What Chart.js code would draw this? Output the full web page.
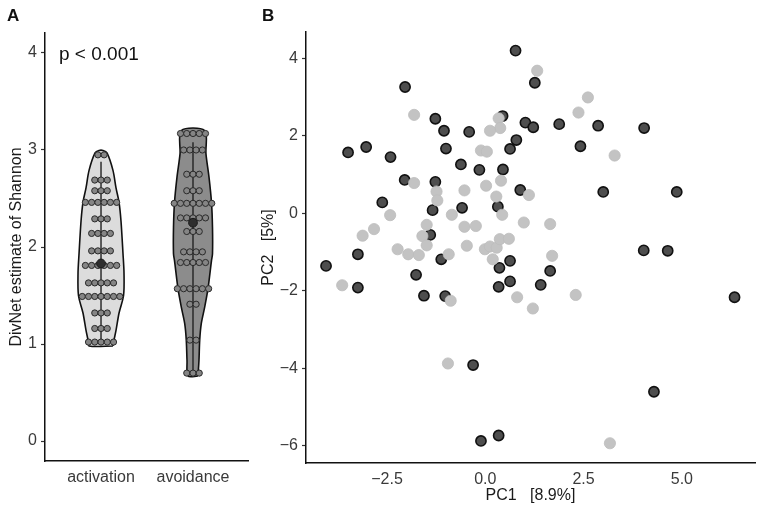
<!DOCTYPE html>
<html>
<head>
<meta charset="utf-8">
<script src="https://cdn.jsdelivr.net/npm/chart.js@4.4.1/dist/chart.umd.min.js"></script>
<style>
  body { margin: 0; background: #fff; font-family: "Liberation Sans", Arial, sans-serif; }
  #wrap { position: relative; width: 765px; height: 513px; overflow: hidden; }
  .panel { position: absolute; top: 0; height: 513px; }
  #panelA { left: 0; width: 258px; }
  #panelB { left: 255px; width: 510px; }
  .tag { position: absolute; font-weight: bold; font-size: 17px; color: #111; }
  #pval { position: absolute; left: 59px; top: 43px; font-size: 19px; color: #111; }
</style>
</head>
<body>
<div id="wrap">
  <div class="panel" id="panelA"><canvas id="chartA"></canvas></div>
  <div class="panel" id="panelB"><canvas id="chartB"></canvas></div>
  <div class="tag" style="left:7px; top:6px;">A</div>
  <div class="tag" style="left:262px; top:6px;">B</div>
  <div id="pval">p &lt; 0.001</div>
</div>
<script>
// panel A: DivNet Shannon estimates, one row of dots per value level
const categories = ["activation", "avoidance"];
const actLevels = [2.95, 2.69, 2.58, 2.46, 2.29, 2.14, 1.96, 1.81, 1.63, 1.49, 1.32, 1.16, 1.02];
const actCounts = [2, 3, 3, 6, 3, 4, 4, 6, 5, 7, 3, 3, 5];
const avoLevels = [3.17, 3.00, 2.75, 2.58, 2.45, 2.30, 2.16, 1.95, 1.84, 1.57, 1.41, 1.04, 0.70];
const avoCounts = [5, 4, 3, 3, 7, 5, 3, 4, 5, 6, 2, 2, 3];
const groupMeans = [1.83, 2.25];
const whiskers = [[1.02, 2.88], [0.70, 3.08]];

// violin outlines (value, half width in category units)
const actViolinY = [0.98, 1.04, 1.14, 1.32, 1.50, 1.73, 1.93, 2.27, 2.46, 2.61, 2.79, 2.97, 2.995];
const actViolinW = [0.13, 0.141, 0.163, 0.196, 0.245, 0.25, 0.239, 0.217, 0.196, 0.163, 0.13, 0.065, 0.022];
const avoViolinY = [0.67, 0.83, 1.04, 1.21, 1.38, 1.57, 1.86, 1.93, 2.20, 2.46, 2.72, 2.96, 3.20];
const avoViolinW = [0.054, 0.065, 0.073, 0.09, 0.127, 0.163, 0.201, 0.212, 0.212, 0.201, 0.174, 0.141, 0.127];
const yTicksA = [0, 1, 2, 3, 4];

// panel B: PCA scores
const avoidancePC1 = [0.77, -2.04, -1.27, -1.05, -0.41, 0.44, 1.02, 0.79, 0.63, -3.49, -3.03, -2.41, -1.00,
  -0.62, -0.15, 0.45, -2.05, -1.27, 0.89, -2.62, -1.34, -0.59, 0.32, 1.26, 1.22, 1.88, 2.87, 4.04, 2.42,
  3.00, 4.87, -1.40, -3.24, -4.05, -1.12, 0.36, 0.63, -1.76, -3.24, -1.56, -1.02, 0.34, 0.63, -0.31,
  4.03, 4.64, 1.65, 1.41, 6.34, 4.29, -0.11, 0.34];
const avoidancePC2 = [4.20, 3.26, 2.44, 2.13, 2.10, 2.51, 2.34, 1.89, 1.66, 1.57, 1.71, 1.45, 1.67,
  1.26, 1.12, 1.13, 0.86, 0.81, 0.60, 0.28, 0.08, 0.14, 0.17, 3.37, 2.22, 2.30, 2.26, 2.20, 1.73,
  0.55, 0.55, -0.56, -1.06, -1.36, -1.19, -1.41, -1.23, -1.59, -1.92, -2.13, -2.14, -1.90, -1.76, -3.92,
  -0.96, -0.97, -1.49, -1.85, -2.17, -4.61, -5.88, -5.74];
const activationPC1 = [-1.81, 0.34, 0.38, 0.12, -0.11, 0.04, 0.40, 0.02, -0.53, -1.81, -1.24, -1.22, 0.28,
  0.43, -2.42, -0.85, 0.98, -2.83, -1.49, -0.53, -0.24, 1.32, 2.61, 2.37, 3.29, 1.11, 1.65, -3.12, -1.60,
  -1.49, -0.47, -2.23, -1.96, -1.69, -0.93, -0.01, 0.12, 0.29, 0.37, 0.60, 0.19, -3.64, -0.88, 0.81,
  1.21, -0.95, 1.70, 2.30, 3.17];
const activationPC2 = [2.54, 2.45, 2.20, 2.13, 1.62, 1.59, 0.84, 0.71, 0.59, 0.78, 0.56, 0.33, 0.43,
  -0.04, -0.05, -0.04, -0.24, -0.41, -0.30, -0.35, -0.33, 3.68, 2.99, 2.60, 1.49, 0.47, -0.28, -0.58, -0.59,
  -0.83, -0.84, -0.93, -1.06, -1.08, -1.06, -0.93, -0.86, -0.89, -0.67, -0.66, -1.19, -1.86, -2.26, -2.17,
  -2.46, -3.88, -1.10, -2.11, -5.94];
const xTicksB = [-2.5, 0, 2.5, 5];
const yTicksB = [-6, -4, -2, 0, 2, 4];

const dotStep = 0.068;
const tickFont = { family: "'Liberation Sans', Arial, sans-serif", size: 16 };
const titleFont = { family: "'Liberation Sans', Arial, sans-serif", size: 16 };

function dotRows(center, levels, counts) {
  const pts = [];
  levels.forEach((v, i) => {
    const n = counts[i];
    for (let k = 0; k < n; k++) {
      pts.push({ x: center + (k - (n - 1) / 2) * dotStep, y: v });
    }
  });
  return pts;
}

function violin(center, ys, ws) {
  const right = ys.map((y, i) => ({ x: center + ws[i], y: y }));
  const left = ys.map((y, i) => ({ x: center - ws[i], y: y })).reverse();
  const pts = right.concat(left);
  pts.push(pts[0]);
  return pts;
}

function axisStyle() {
  return {
    border: { display: true, color: "#111", width: 1.5 },
    grid: { drawOnChartArea: false, drawTicks: true, tickLength: 4, tickColor: "#333", tickWidth: 1.2 },
    ticks: { color: "#3a3a3a", font: tickFont, padding: 4, maxRotation: 0, autoSkip: false }
  };
}

// ---------- panel A ----------
const xA = axisStyle();
xA.grid.tickColor = "rgba(0,0,0,0)";
xA.ticks.padding = 3;
const yA = axisStyle();

new Chart(document.getElementById("chartA"), {
  type: "scatter",
  data: {
    datasets: [
      { data: violin(1, actViolinY, actViolinW), showLine: true, fill: "shape", tension: 0.3,
        backgroundColor: "#dcdcdc", borderColor: "#111", borderWidth: 1.6, pointRadius: 0, order: 5 },
      { data: violin(2, avoViolinY, avoViolinW), showLine: true, fill: "shape", tension: 0.3,
        backgroundColor: "#8c8c8c", borderColor: "#111", borderWidth: 1.6, pointRadius: 0, order: 5 },
      { data: [{ x: 1, y: whiskers[0][0] }, { x: 1, y: whiskers[0][1] }], showLine: true,
        borderColor: "#222", borderWidth: 1.4, pointRadius: 0, order: 4 },
      { data: [{ x: 2, y: whiskers[1][0] }, { x: 2, y: whiskers[1][1] }], showLine: true,
        borderColor: "#222", borderWidth: 1.4, pointRadius: 0, order: 4 },
      { data: dotRows(1, actLevels, actCounts), pointRadius: 3.1, pointBackgroundColor: "#858585",
        pointBorderColor: "#2a2a2a", pointBorderWidth: 1, order: 3 },
      { data: dotRows(2, avoLevels, avoCounts), pointRadius: 3.1, pointBackgroundColor: "#858585",
        pointBorderColor: "#2a2a2a", pointBorderWidth: 1, order: 3 },
      { data: groupMeans.map((m, i) => ({ x: i + 1, y: m })), pointRadius: 4.4,
        pointBackgroundColor: "#2e2e2e", pointBorderColor: "#1a1a1a", pointBorderWidth: 1, order: 1 }
    ]
  },
  options: {
    responsive: true,
    maintainAspectRatio: false,
    animation: false,
    layout: { padding: { left: 3, top: 33, right: 10, bottom: 0 } },
    plugins: { legend: { display: false }, tooltip: { enabled: false } },
    scales: {
      x: Object.assign(xA, {
        type: "linear", min: 0.391, max: 2.598,
        afterBuildTicks: s => { s.ticks = [1, 2].map(v => ({ value: v })); },
        afterFit: s => { s.height = 52; },
        ticks: Object.assign(xA.ticks, { callback: v => categories[v - 1] })
      }),
      y: Object.assign(yA, {
        min: -0.206, max: 4.206,
        afterBuildTicks: s => { s.ticks = yTicksA.map(v => ({ value: v })); },
        afterFit: s => { s.width = 42; },
        title: { display: true, text: "DivNet estimate of Shannon", color: "#1a1a1a", font: titleFont,
          padding: { top: 4, bottom: 4 } }
      })
    }
  }
});

// ---------- panel B ----------
const xB = axisStyle();
xB.grid.tickColor = "rgba(0,0,0,0)";
xB.ticks.padding = 3;
const yB = axisStyle();

new Chart(document.getElementById("chartB"), {
  type: "scatter",
  data: {
    datasets: [
      { label: "activation", data: activationPC1.map((x, i) => ({ x: x, y: activationPC2[i] })),
        pointRadius: 5.6, pointBackgroundColor: "#c3c3c3", pointBorderColor: "#bcbcbc", pointBorderWidth: 0.8, order: 1 },
      { label: "avoidance", data: avoidancePC1.map((x, i) => ({ x: x, y: avoidancePC2[i] })),
        pointRadius: 5.1, pointBackgroundColor: "#4e4e4e", pointBorderColor: "#111", pointBorderWidth: 1.6, order: 2 }
    ]
  },
  options: {
    responsive: true,
    maintainAspectRatio: false,
    animation: false,
    layout: { padding: { left: 0, top: 32, right: 10, bottom: 4 } },
    plugins: { legend: { display: false }, tooltip: { enabled: false } },
    scales: {
      x: Object.assign(xB, {
        type: "linear", min: -4.56, max: 6.86,
        afterBuildTicks: s => { s.ticks = xTicksB.map(v => ({ value: v })); },
        afterFit: s => { s.height = 46; },
        ticks: Object.assign(xB.ticks, { callback: v => v.toFixed(1).replace("-", "\u2212") }),
        title: { display: true, text: "PC1\u00a0\u00a0\u00a0[8.9%]", color: "#1a1a1a", font: titleFont,
          padding: { top: 2, bottom: 4 } }
      }),
      y: Object.assign(yB, {
        min: -6.45, max: 4.68,
        afterBuildTicks: s => { s.ticks = yTicksB.map(v => ({ value: v })); },
        afterFit: s => { s.width = 51; },
        ticks: Object.assign(yB.ticks, { callback: v => String(v).replace("-", "\u2212") }),
        title: { display: true, text: "PC2\u00a0\u00a0\u00a0[5%]", color: "#1a1a1a", font: titleFont,
          padding: { top: 4, bottom: 4 } }
      })
    }
  }
});
</script>
</body>
</html>
